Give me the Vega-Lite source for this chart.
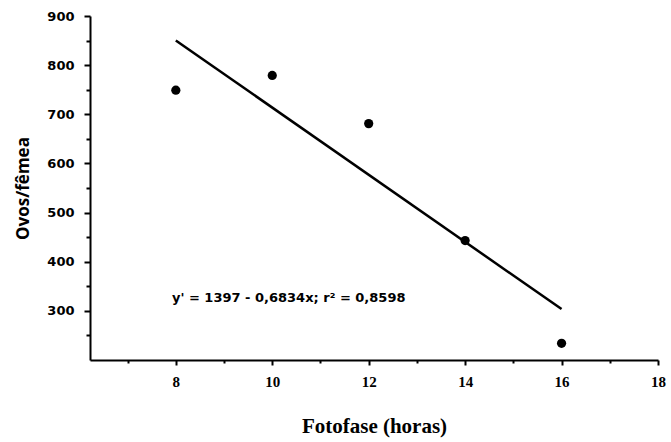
{
  "$schema": "https://vega.github.io/schema/vega-lite/v6.json",
  "autosize": "none",
  "width": 568,
  "height": 344,
  "padding": {"left": 90, "top": 16, "right": 13, "bottom": 82},
  "background": "white",
  "config": {"view": {"stroke": null}},
  "layer": [
    {
      "data": {"values": [
        {"fotofase": 8, "ovos": 749},
        {"fotofase": 10, "ovos": 779},
        {"fotofase": 12, "ovos": 681},
        {"fotofase": 14, "ovos": 443},
        {"fotofase": 16, "ovos": 234}
      ]},
      "mark": {"type": "point", "filled": true, "color": "black", "size": 85, "opacity": 1},
      "encoding": {
        "x": {"field": "fotofase", "type": "quantitative",
          "scale": {"domain": [6.22, 18], "nice": false, "zero": false},
          "axis": {
            "title": "Fotofase (horas)",
            "values": [7, 8, 9, 10, 11, 12, 13, 14, 15, 16, 17, 18],
            "tickCount": 30,
            "format": "d",
            "labelExpr": "datum.value % 2 === 0 ? datum.label : ''",
            "labelOverlap": false, "labelFlush": false,
            "grid": false, "domainColor": "black", "domainWidth": 2,
            "tickColor": "black", "tickWidth": 2,
            "tickSize": {"condition": {"test": "datum.value % 2 === 0", "value": 5}, "value": 3},
            "labelFont": "Liberation Serif", "labelFontWeight": "bold", "labelFontSize": 15,
            "labelColor": "black", "labelPadding": 9,
            "titleFont": "Liberation Serif", "titleFontWeight": "bold", "titleFontSize": 21,
            "titleColor": "black", "titlePadding": 26
          }
        },
        "y": {"field": "ovos", "type": "quantitative",
          "scale": {"domain": [200, 900], "nice": false, "zero": false},
          "axis": {
            "title": "Ovos/fêmea",
            "values": [250, 300, 350, 400, 450, 500, 550, 600, 650, 700, 750, 800, 850, 900],
            "tickCount": 30,
            "format": "d",
            "labelExpr": "datum.value % 100 ? '' : datum.label",
            "labelOverlap": false, "labelFlush": false,
            "grid": false, "domainColor": "black", "domainWidth": 2,
            "tickColor": "black", "tickWidth": 2,
            "tickSize": {"condition": {"test": "datum.value % 100 === 0", "value": 6}, "value": 4},
            "labelFont": "DejaVu Sans", "labelFontWeight": "bold", "labelFontSize": 13,
            "labelColor": "black", "labelPadding": 10,
            "titleFont": "Open Sans", "titleFontWeight": "bold", "titleFontSize": 17,
            "titleColor": "black", "titlePadding": 14
          }
        }
      }
    },
    {
      "data": {"values": [
        {"fotofase": 8, "ovos": 850.3},
        {"fotofase": 16, "ovos": 303.6}
      ]},
      "mark": {"type": "line", "color": "black", "strokeWidth": 2.5},
      "encoding": {
        "x": {"field": "fotofase", "type": "quantitative"},
        "y": {"field": "ovos", "type": "quantitative"}
      }
    },
    {
      "data": {"values": [
        {"fotofase": 7.92, "ovos": 327, "label": "y' = 1397 - 0,6834x; r² = 0,8598"}
      ]},
      "mark": {"type": "text", "align": "left", "baseline": "middle", "font": "DejaVu Sans", "fontWeight": "bold", "fontSize": 13, "color": "black"},
      "encoding": {
        "x": {"field": "fotofase", "type": "quantitative"},
        "y": {"field": "ovos", "type": "quantitative"},
        "text": {"field": "label"}
      }
    }
  ]
}
